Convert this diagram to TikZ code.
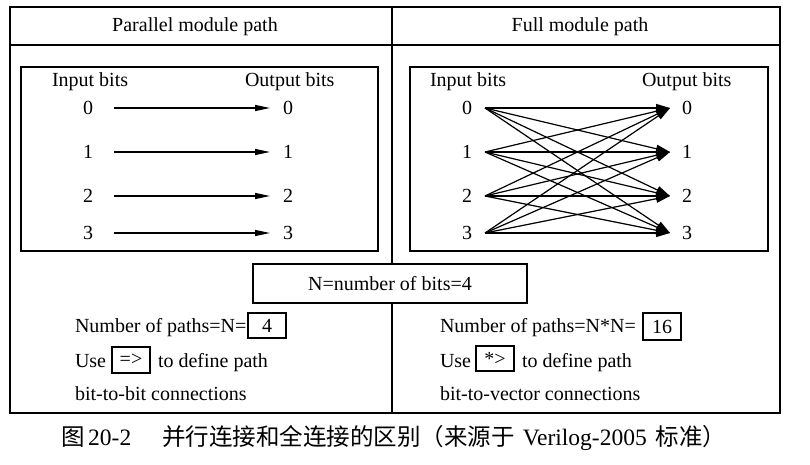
\documentclass[tikz,border=0pt]{standalone}
\usepackage{fontspec}
\setmainfont{Liberation Serif}
\newfontfamily\cjk{Noto Sans CJK SC}
\usetikzlibrary{arrows.meta}
\begin{document}
\begin{tikzpicture}[x=1pt,y=-1pt,
  txt/.style={font=\fontsize{20}{24}\selectfont, inner sep=0pt, outer sep=0pt},
  lbl/.style={txt, anchor=base west},
  smallbox/.style={txt, draw, line width=1.4pt, minimum width=38pt, minimum height=25pt},
  parr/.style={line width=1.2pt, -{Triangle[length=15pt,width=6pt]}},
  farr/.style={line width=1.2pt, -{Triangle[length=14pt,width=8pt]}},
  frame/.style={line width=2pt},
  panel/.style={line width=1.8pt}
]
\useasboundingbox (0,0) rectangle (810,465);
\fill[white] (0,0) rectangle (810,465);

% outer frame, header and divider
\draw[line width=1.5pt] (10,45) -- (780,45);
\draw[line width=1.5pt] (392,7) -- (392,413);
\draw[frame] (10,7) rectangle (780,413);

% titles
\node[txt, anchor=base] (t1) at (195,32) {Parallel module path};
\node[txt, anchor=base] (t2) at (580,32) {Full module path};

% inner panels
\draw[panel, fill=white] (21,67) rectangle (378,251);
\draw[panel, fill=white] (410,67) rectangle (768,251);

% left panel
\node[lbl] (li) at (52,87) {Input bits};
\node[lbl] (lo) at (245,87) {Output bits};
\foreach \k/\yy in {0/108,1/152,2/196,3/233}{
  \node[txt, minimum width=52pt] (a\k) at (88,\yy) {\k};
  \node[txt, minimum width=36pt] (b\k) at (288,\yy) {\k};
  \draw[parr] (a\k.east) -- (b\k.west);
}

% right panel
\node[lbl] (ri) at (430,87) {Input bits};
\node[lbl] (ro) at (642,87) {Output bits};
\foreach \k/\yy in {0/108,1/152,2/196,3/233}{
  \node[txt, minimum width=36pt] (c\k) at (467,\yy) {\k};
  \node[txt, minimum width=34pt] (d\k) at (687,\yy) {\k};
}
\foreach \i in {0,...,3}{
  \foreach \j in {0,...,3}{
    \draw[farr] (c\i.east) -- (d\j.west);
  }
}

% N box
\node[txt, draw, line width=1.8pt, fill=white, minimum width=274pt, minimum height=39pt] (nb) at (390,283.5) {N=number of bits=4};

% bottom left
\node[lbl] (np1) at (75,332) {Number of paths=N=};
\node[smallbox] (v1) at (267,325.5) {4};
\node[lbl] (u1) at (75,367) {Use};
\node[smallbox, minimum height=26pt] (o1) at (131,360) {=>};
\node[lbl] (d1) at (158,367) {to define path};
\node[lbl] (c1) at (75,400) {bit-to-bit connections};

% bottom right
\node[lbl] (np2) at (440,332) {Number of paths=N*N=};
\node[smallbox, minimum height=27pt] (v2) at (662,326.5) {16};
\node[lbl] (u2) at (440,367) {Use};
\node[smallbox] (o2) at (495,358.5) {*>};
\node[lbl] (d2) at (522,367) {to define path};
\node[lbl] (c2) at (440,400) {bit-to-vector connections};

% caption
\node[anchor=base west, inner sep=0pt, font=\fontsize{23.5}{28}\selectfont] (cap) at (61,445)
  {{\cjk 图}\hspace{3.5pt}20-2\hspace{31pt}{\cjk 并行连接和全连接的区别（来源于}\hspace{8pt}Verilog-2005\hspace{9pt}{\cjk 标准）}};
\end{tikzpicture}
\end{document}
